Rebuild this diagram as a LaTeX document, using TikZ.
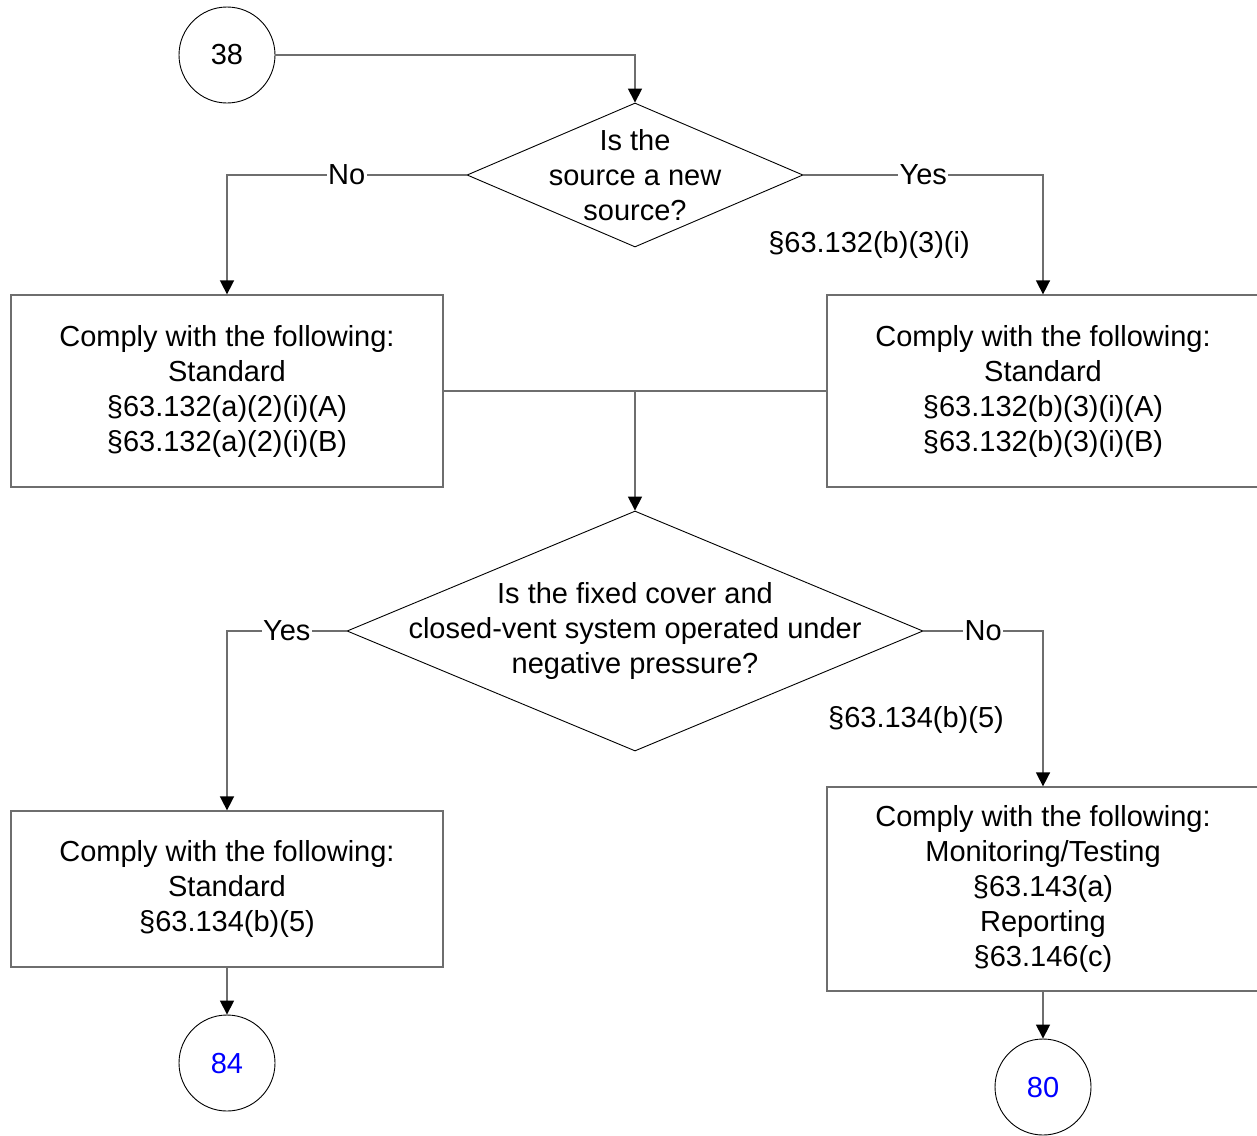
\documentclass[tikz,border=0pt]{standalone}
\usepackage{fontspec}
\setmainfont{Liberation Sans}
\usetikzlibrary{shapes.geometric,arrows.meta}
\definecolor{linegray}{RGB}{110,110,110}
\definecolor{linkblue}{RGB}{0,0,255}
\begin{document}
\begin{tikzpicture}[x=1pt,y=-1pt,
  every node/.style={font=\fontsize{29}{35}\selectfont},
  box/.style={draw=linegray, line width=1.3pt, minimum width=432pt, align=center, inner sep=0pt},
  dec/.style={diamond, draw=black, line width=0.9pt, inner sep=0pt},
  offp/.style={circle, draw=black, line width=0.9pt, minimum size=96pt, inner sep=0pt},
  plainline/.style={draw=linegray, line width=1.6pt},
  flow/.style={plainline, -{Triangle[width=14pt,length=14pt,color=black,fill=black]}},
  lbl/.style={fill=white, inner sep=1.5pt}]
\useasboundingbox (0,0) rectangle (1257,1135);
\fill[white] (0,0) rectangle (1257,1135);

\node[offp] (c38) at (227,55) {38};
\node[dec, minimum width=336pt, minimum height=144pt] (d1) at (635,175) {};
\node[align=center] (d1t) at (d1) {Is the\\source a new\\source?};
\node[box, minimum height=192pt] (bL) at (227,391) {Comply with the following:\\Standard\\§63.132(a)(2)(i)(A)\\§63.132(a)(2)(i)(B)};
\node[box, minimum height=192pt] (bR) at (1043,391) {Comply with the following:\\Standard\\§63.132(b)(3)(i)(A)\\§63.132(b)(3)(i)(B)};
\node (s1) at (869,245) {§63.132(b)(3)(i)};
\coordinate (m) at (635,391);
\node[dec, minimum width=576pt, minimum height=240pt] (d2) at (635,631) {};
\node[align=center] (d2t) at (d2) {Is the fixed cover and\\closed-vent system operated under\\negative pressure?};
\node (s2) at (916,720) {§63.134(b)(5)};
\node[box, minimum height=156pt] (bLL) at (227,889) {Comply with the following:\\Standard\\§63.134(b)(5)};
\node[box, minimum height=204pt] (bRR) at (1043,889) {Comply with the following:\\Monitoring/Testing\\§63.143(a)\\Reporting\\§63.146(c)};
\node[offp, text=linkblue] (c84) at (227,1063) {84};
\node[offp, text=linkblue] (c80) at (1043,1087) {80};

\draw[flow] (c38.east) -| (d1.north);
\draw[flow] (d1.west) -| node[lbl,pos=0.25]{No} (bL.north);
\draw[flow] (d1.east) -| node[lbl,pos=0.25]{Yes} (bR.north);
\draw[plainline] (bL.east) -- (bR.west);
\draw[flow] (m) -- (d2.north);
\draw[flow] (d2.west) -| node[lbl,pos=0.25]{Yes} (bLL.north);
\draw[flow] (d2.east) -| node[lbl,pos=0.25]{No} (bRR.north);
\draw[flow] (bLL.south) -- (c84.north);
\draw[flow] (bRR.south) -- (c80.north);
\end{tikzpicture}
\end{document}
